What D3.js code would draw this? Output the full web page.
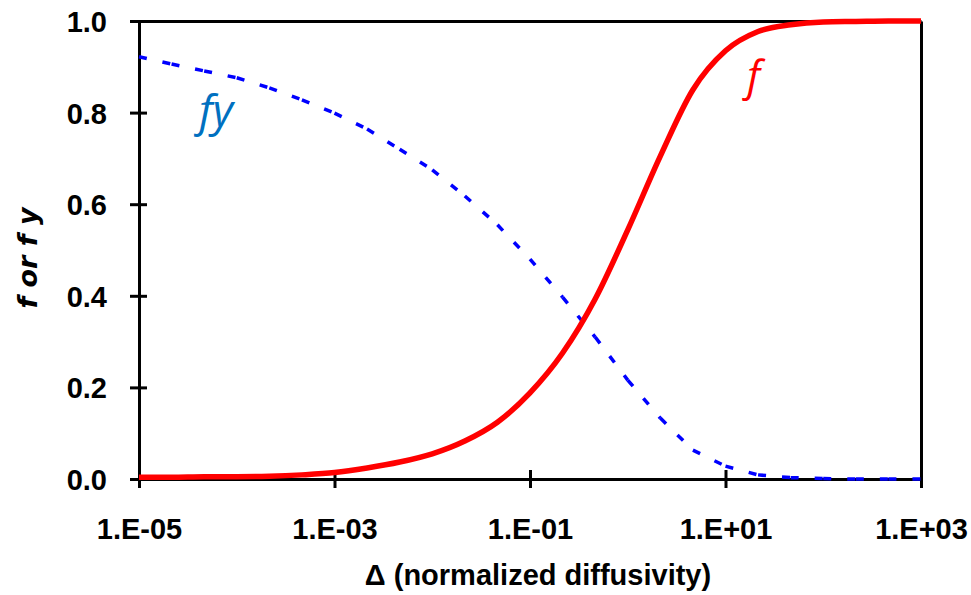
<!DOCTYPE html>
<html>
<head>
<meta charset="utf-8">
<script src="https://cdn.jsdelivr.net/npm/d3@7/dist/d3.min.js"></script>
<style>
  html, body { margin: 0; padding: 0; background: #fff; }
  svg { display: block; }
</style>
</head>
<body>
<svg id="chart" width="971" height="595"></svg>
<script>
// Normalized diffusivity, sampled every third of a decade
const delta = [
  1e-5, 2.154e-5, 4.642e-5,
  1e-4, 2.154e-4, 4.642e-4,
  1e-3, 2.154e-3, 4.642e-3,
  1e-2, 2.154e-2, 4.642e-2,
  1e-1, 2.154e-1, 4.642e-1,
  1e0,  2.154e0,  4.642e0,
  1e1,  2.154e1,  4.642e1,
  1e2,  2.154e2,  4.642e2,
  1e3
];
// f (solid red)
const fValues = [
  0.004, 0.004, 0.005,
  0.005, 0.006, 0.009,
  0.014, 0.024, 0.037,
  0.055, 0.083, 0.124,
  0.188, 0.275, 0.393,
  0.544, 0.705, 0.850,
  0.935, 0.977, 0.992,
  0.998, 0.999, 1.000,
  1.000
];
// f·y (dashed blue)
const fyValues = [
  0.922, 0.906, 0.891,
  0.876, 0.854, 0.828,
  0.799, 0.764, 0.720,
  0.675, 0.618, 0.555,
  0.480, 0.397, 0.310,
  0.216, 0.133, 0.063,
  0.028, 0.009, 0.003,
  0.001, 0.000, 0.000,
  0.000
];
const xTickValues = [1e-5, 1e-3, 1e-1, 1e1, 1e3];
const xTickLabels = ["1.E-05", "1.E-03", "1.E-01", "1.E+01", "1.E+03"];
const yTickValues = [0, 0.2, 0.4, 0.6, 0.8, 1.0];
const yTickLabels = ["0.0", "0.2", "0.4", "0.6", "0.8", "1.0"];

const svg = d3.select("#chart");
const plotLeft = 139, plotRight = 921, plotTop = 21, plotBottom = 479;

const x = d3.scaleLog().domain([1e-5, 1e3]).range([plotLeft, plotRight]);
const y = d3.scaleLinear().domain([0, 1]).range([plotBottom, plotTop]);

const tickFont = "'Liberation Sans', Arial, sans-serif";

// Bottom axis with ticks crossing the axis line
const gx = svg.append("g")
  .attr("transform", `translate(0,${plotBottom})`)
  .call(d3.axisBottom(x)
    .tickValues(xTickValues)
    .tickFormat((d, i) => xTickLabels[i])
    .tickSizeOuter(0));
gx.select(".domain").attr("stroke", "#000").attr("stroke-width", 3);
gx.selectAll(".tick line").attr("y1", -9).attr("y2", 9)
  .attr("stroke", "#000").attr("stroke-width", 3);
gx.selectAll(".tick text")
  .attr("y", 60).attr("dy", 0)
  .attr("fill", "#000")
  .style("font-family", tickFont)
  .style("font-weight", "bold")
  .style("font-size", "29px");

// Left axis
const gy = svg.append("g")
  .attr("transform", `translate(${plotLeft},0)`)
  .call(d3.axisLeft(y)
    .tickValues(yTickValues)
    .tickFormat((d, i) => yTickLabels[i])
    .tickSizeOuter(0));
gy.select(".domain").attr("stroke", "#000").attr("stroke-width", 3);
gy.selectAll(".tick line").attr("x1", -9).attr("x2", 8)
  .attr("stroke", "#000").attr("stroke-width", 3);
gy.selectAll(".tick text")
  .attr("x", -32).attr("dy", "0.36em")
  .attr("fill", "#000")
  .style("font-family", tickFont)
  .style("font-weight", "bold")
  .style("font-size", "29px");

// Frame: top and right edges of the plot area
const gTop = svg.append("g")
  .attr("transform", `translate(0,${plotTop})`)
  .call(d3.axisTop(x).tickValues([]).tickSizeOuter(0));
gTop.select(".domain").attr("stroke", "#000").attr("stroke-width", 3);
const gRight = svg.append("g")
  .attr("transform", `translate(${plotRight},0)`)
  .call(d3.axisRight(y).tickValues([]).tickSizeOuter(0));
gRight.select(".domain").attr("stroke", "#000").attr("stroke-width", 3);

// Axis titles
svg.append("text")
  .attr("x", 538).attr("y", 585)
  .attr("text-anchor", "middle")
  .style("font-family", tickFont)
  .style("font-weight", "bold")
  .style("font-size", "29px")
  .text("Δ (normalized diffusivity)");

svg.append("text")
  .attr("transform", "translate(37,258) rotate(-90)")
  .attr("text-anchor", "middle")
  .style("font-family", "'DejaVu Sans', sans-serif")
  .style("font-weight", "bold")
  .style("font-style", "italic")
  .style("font-size", "27px")
  .text("f or f y");

const pts = (vals) => delta.map((d, i) => [x(d), y(vals[i])]);

// fy: dashed, pattern restarts on every segment
const fyPts = pts(fyValues);
const seg = d3.line();
const gFy = svg.append("g");
for (let i = 0; i < fyPts.length - 1; i++) {
  gFy.append("path")
    .attr("d", seg([fyPts[i], fyPts[i + 1]]))
    .attr("fill", "none")
    .attr("stroke", "#0000ff")
    .attr("stroke-width", 3.5)
    .attr("stroke-dasharray", "8,16");
}

// f: solid red
svg.append("path")
  .attr("d", d3.line().curve(d3.curveMonotoneX)(pts(fValues)))
  .attr("fill", "none")
  .attr("stroke", "#ff0000")
  .attr("stroke-width", 5.5)
  .attr("stroke-linejoin", "round");

// Curve labels
svg.append("text")
  .attr("x", 199).attr("y", 126)
  .attr("fill", "#0070c0")
  .style("font-family", "'Open Sans', sans-serif")
  .style("font-style", "italic")
  .style("font-size", "44px")
  .text("fy");

svg.append("text")
  .attr("x", 747).attr("y", 91)
  .attr("fill", "#ff0000")
  .style("font-family", "'Open Sans', sans-serif")
  .style("font-style", "italic")
  .style("font-size", "42px")
  .text("f");
</script>
</body>
</html>
